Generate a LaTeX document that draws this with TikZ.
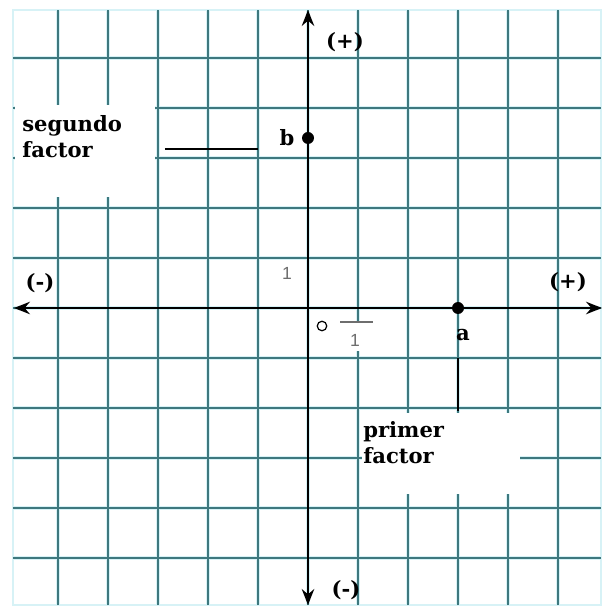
\documentclass[tikz,border=0pt]{standalone}
\usepackage{fontspec}
\setmainfont{DejaVu Serif}
\newfontfamily\numfont{Liberation Sans}
\usepackage{xcolor}
\definecolor{gridteal}{RGB}{62, 120, 126}
\definecolor{gridhalo}{RGB}{215, 242, 246}
\definecolor{onegray}{RGB}{110, 110, 110}
\usepackage{tikz}
\usetikzlibrary{positioning, arrows.meta}

\begin{document}
\begin{tikzpicture}[
    lbl/.style={font=\fontsize{12}{15}\selectfont\bfseries, inner sep=0pt},
    unitlbl/.style={font=\numfont\fontsize{10}{11}\selectfont, text=onegray, inner sep=0pt},
    dot/.style={circle, fill=black, inner sep=0pt, minimum size=0.24cm},
    axis/.style={line width=1.7pt, {Stealth[length=9pt, width=7pt]}-{Stealth[length=9pt, width=7pt]}}
  ]
  \useasboundingbox (-6.16,-5.94) rectangle (6.0,6.16);
  \fill[white] (-6.16,-5.94) rectangle (6.0,6.16);

  % Grid
  \draw[gridhalo, line width=2.4pt] (-5.9,-5.94) grid (5.86,5.96);
  \draw[gridhalo, line width=1pt] (-5.9,-5.94) rectangle (5.86,5.96);
  \draw[gridteal, line width=0.8pt] (-5.9,-5.94) grid (5.86,5.96);

  % White patches behind the labels
  \fill[white] (-5.86,2.22) rectangle (-3.06,4.06);
  \fill[white] (1.08,-3.72) rectangle (4.24,-2.1);
  \fill[white] (-0.92,0.08) rectangle (-0.08,0.92);
  \fill[white] (0.4,-0.86) rectangle (1.7,-0.28);

  % Axes
  \coordinate (xl) at (-5.88,0);
  \coordinate (xr) at (5.88,0);
  \coordinate (yb) at (0,-5.94);
  \coordinate (yt) at (0,5.96);
  \draw[axis] (xl) -- (xr);
  \draw[axis] (yb) -- (yt);

  \node[lbl] (ptop) at (0.74,5.32) {(+)};
  \node[lbl] (pbot) at (0.76,-5.64) {(-)};
  \node[lbl] (nleft) at (-5.36,0.5) {(-)};
  \node[lbl] (nright) at (5.2,0.52) {(+)};

  % Unit marks
  \node[unitlbl] (oney) at (-0.42,0.7) {1};
  \node[unitlbl] (onex) at (0.94,-0.64) {1};
  \coordinate (tk1) at (0.64,-0.28);
  \coordinate (tk2) at (1.3,-0.28);
  \draw[onegray, line width=0.6pt] (tk1) -- (tk2);
  \node[circle, draw=black, line width=0.7pt, inner sep=0pt, minimum size=0.19cm] (orig) at (0.28,-0.36) {};

  % Points
  \node[dot] (pb) at (0,3.4) {};
  \node[lbl, left=0.42cm of pb.center, anchor=center] (lb) {b};
  \node[dot] (pa) at (3,0) {};
  \node[lbl] (la) at (3.1,-0.54) {a};

  % Factor labels
  \node[lbl, align=left, anchor=north west] (segf) at (-5.72,3.86) {segundo\\factor};
  \coordinate (sf1) at (-2.86,3.18);
  \coordinate (sf2) at (-1.0,3.18);
  \draw[line width=1pt] (sf1) -- (sf2);

  \node[lbl, align=left, anchor=north west] (primf) at (1.1,-2.26) {primer\\factor};
  \coordinate (pf1) at (3,-1.0);
  \coordinate (pf2) at (3,-2.06);
  \draw[line width=1pt] (pf1) -- (pf2);
\end{tikzpicture}
\end{document}
